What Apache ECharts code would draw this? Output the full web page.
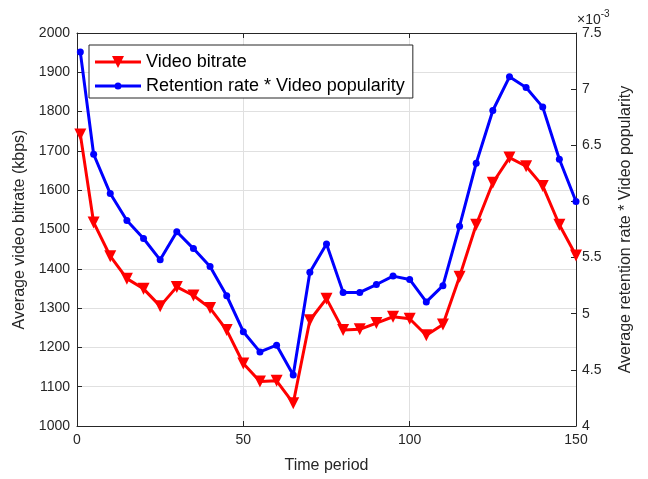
<!DOCTYPE html>
<html>
<head>
<meta charset="utf-8">
<script src="https://cdn.jsdelivr.net/npm/echarts@6/dist/echarts.min.js"></script>
<style>
  html, body { margin: 0; padding: 0; background: #fff; }
  #chart { width: 648px; height: 479px; }
</style>
</head>
<body>
<div id="chart"></div>
<script>
// Sampled time periods
const timePeriods = [1, 5, 10, 15, 20, 25, 30, 35, 40, 45, 50, 55, 60, 65, 70, 75,
  80, 85, 90, 95, 100, 105, 110, 115, 120, 125, 130, 135, 140, 145, 150];

// Average video bitrate (kbps)
const videoBitrate = [1742, 1518, 1432, 1375, 1349, 1305, 1354, 1332, 1300, 1244,
  1159, 1113, 1115, 1058, 1269, 1324, 1244, 1246, 1262, 1278, 1273, 1231, 1258,
  1380, 1512, 1619, 1683, 1661, 1611, 1512, 1434];

// Retention rate * video popularity, in units of 1e-3
const retentionPopularity = [7.33, 6.42, 6.07, 5.83, 5.67, 5.48, 5.73, 5.58, 5.42,
  5.16, 4.84, 4.66, 4.72, 4.455, 5.37, 5.62, 5.19, 5.19, 5.26, 5.335, 5.305, 5.105,
  5.25, 5.78, 6.34, 6.81, 7.11, 7.015, 6.84, 6.375, 6.0];

const xTicks = { min: 0, max: 150, interval: 50 };
const leftTicks = { min: 1000, max: 2000, interval: 100 };
const rightTicks = { min: 4, max: 7.5, interval: 0.5 };

const seriesNames = ['Video bitrate', 'Retention rate * Video popularity'];

const axisColor = '#262626';
const gridColor = '#e0e0e0';
const font = 'Liberation Sans, Arial, Helvetica, sans-serif';

// Legend glyphs: a line segment with the series marker on top
const legendIcons = [
  'path://M0,5.5L46,5.5L46,8.5L0,8.5Z M17,1L29,1L23,13Z',
  'path://M0,5.5L46,5.5L46,8.5L0,8.5Z M19.5,7A3.5,3.5 0 1,1 26.5,7A3.5,3.5 0 1,1 19.5,7Z'
];

const chart = echarts.init(document.getElementById('chart'), null, { renderer: 'canvas' });

const pairs = (xs, ys) => xs.map((x, i) => [x, ys[i]]);

chart.setOption({
  animation: false,
  backgroundColor: '#ffffff',
  grid: { left: 77, right: 72, top: 33, bottom: 51, containLabel: false },
  legend: {
    orient: 'vertical',
    left: 89,
    top: 45,
    padding: [8, 8, 3, 6],
    itemGap: 6,
    itemWidth: 46,
    itemHeight: 14,
    symbolKeepAspect: true,
    backgroundColor: '#ffffff',
    borderColor: axisColor,
    borderWidth: 1,
    borderRadius: 0,
    textStyle: { fontFamily: font, fontSize: 18, color: '#000' },
    data: seriesNames.map((name, i) => ({ name, icon: legendIcons[i] }))
  },
  xAxis: [
    {
      type: 'value',
      min: xTicks.min, max: xTicks.max, interval: xTicks.interval,
      position: 'bottom',
      name: 'Time period',
      nameLocation: 'middle',
      nameGap: 32,
      nameTextStyle: { fontFamily: font, fontSize: 16, color: axisColor },
      axisLine: { show: true, onZero: false, lineStyle: { color: axisColor, width: 1 } },
      axisTick: { show: true, inside: true, length: 5, lineStyle: { color: axisColor } },
      axisLabel: { fontFamily: font, fontSize: 14, color: axisColor, margin: 7 },
      splitLine: { show: true, lineStyle: { color: gridColor, width: 1 } }
    },
    {
      type: 'value',
      min: xTicks.min, max: xTicks.max, interval: xTicks.interval,
      position: 'top',
      axisLine: { show: true, onZero: false, lineStyle: { color: axisColor, width: 1 } },
      axisTick: { show: true, inside: true, length: 5, lineStyle: { color: axisColor } },
      axisLabel: { show: false },
      splitLine: { show: false }
    }
  ],
  yAxis: [
    {
      type: 'value',
      min: leftTicks.min, max: leftTicks.max, interval: leftTicks.interval,
      position: 'left',
      name: 'Average video bitrate (kbps)',
      nameLocation: 'middle',
      nameGap: 41,
      nameTextStyle: { fontFamily: font, fontSize: 16, color: axisColor },
      axisLine: { show: true, onZero: false, lineStyle: { color: axisColor, width: 1 } },
      axisTick: { show: true, inside: true, length: 5, lineStyle: { color: axisColor } },
      axisLabel: {
        fontFamily: font, fontSize: 14, color: axisColor, margin: 7,
        formatter: v => String(v)
      },
      splitLine: { show: true, lineStyle: { color: gridColor, width: 1 } }
    },
    {
      type: 'value',
      min: rightTicks.min, max: rightTicks.max, interval: rightTicks.interval,
      position: 'right',
      name: 'Average retention rate * Video popularity',
      nameLocation: 'middle',
      nameGap: 42,
      nameRotate: 90,
      nameTextStyle: { fontFamily: font, fontSize: 16, color: axisColor },
      axisLine: { show: true, onZero: false, lineStyle: { color: axisColor, width: 1 } },
      axisTick: { show: true, inside: true, length: 5, lineStyle: { color: axisColor } },
      axisLabel: {
        fontFamily: font, fontSize: 14, color: axisColor, margin: 6,
        formatter: v => String(Math.round(v * 10) / 10)
      },
      splitLine: { show: false }
    }
  ],
  graphic: [
    {
      type: 'text',
      left: 577,
      top: 9,
      style: {
        text: '{a|×10}{b|-3}',
        rich: {
          a: { fontFamily: font, fontSize: 14, fill: axisColor, verticalAlign: 'bottom' },
          b: { fontFamily: font, fontSize: 10, fill: axisColor, verticalAlign: 'top', padding: [0, 0, 8, 0] }
        }
      }
    }
  ],
  series: [
    {
      name: seriesNames[0],
      type: 'line',
      xAxisIndex: 0,
      yAxisIndex: 0,
      data: pairs(timePeriods, videoBitrate),
      symbol: 'triangle',
      symbolRotate: 180,
      symbolSize: 12,
      itemStyle: { color: '#ff0000' },
      lineStyle: { color: '#ff0000', width: 3 },
      z: 3
    },
    {
      name: seriesNames[1],
      type: 'line',
      xAxisIndex: 0,
      yAxisIndex: 1,
      data: pairs(timePeriods, retentionPopularity),
      symbol: 'circle',
      symbolSize: 7,
      itemStyle: { color: '#0000ff' },
      lineStyle: { color: '#0000ff', width: 3 },
      z: 4
    }
  ]
});
</script>
</body>
</html>
